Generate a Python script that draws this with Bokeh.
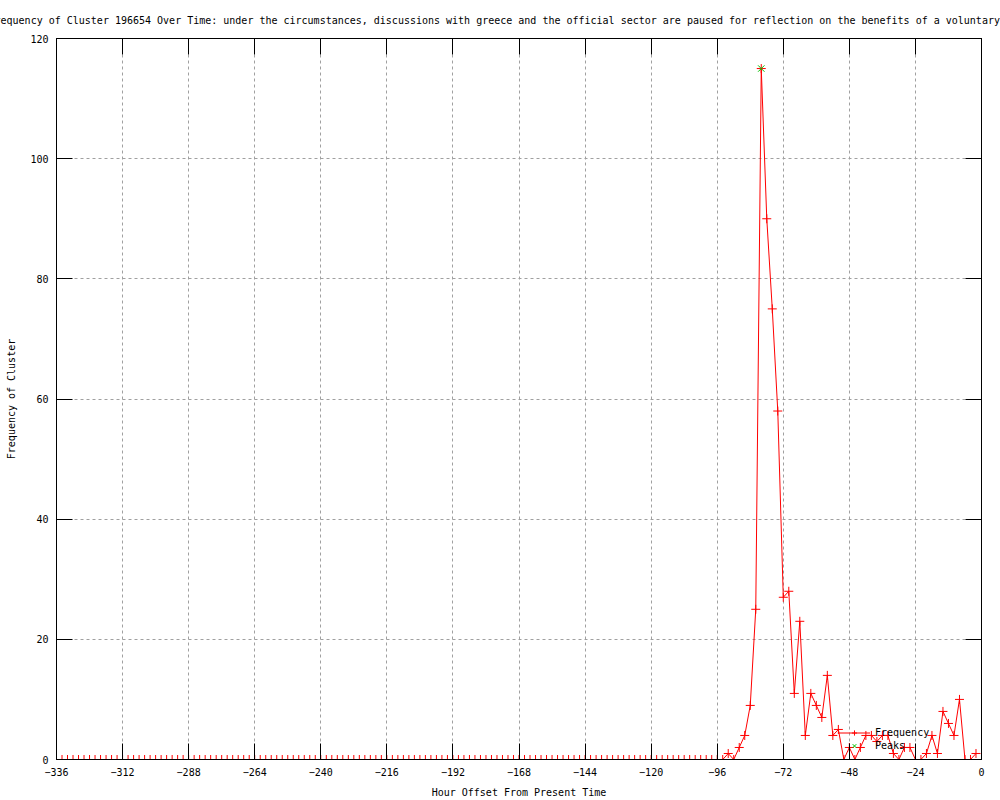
from bokeh.plotting import figure
from bokeh.models import Range1d, FixedTicker, LinearAxis, Legend, LegendItem
from bokeh.embed import file_html
from bokeh.resources import INLINE

# ---------------- data ----------------
title_text = ("Frequency of Cluster 196654 Over Time: under the circumstances, discussions with greece "
              "and the official sector are paused for reflection on the benefits of a voluntary")
x_label = "Hour Offset From Present Time"
y_label = "Frequency of Cluster"

hours = list(range(-336, 0, 2))  # sampling every 2 hours, -336 .. -2

frequency = [
    0, 0, 0, 0, 0, 0, 0, 0, 0, 0, 0, 0, 0, 0, 0, 0, 0, 0, 0, 0,   # -336 .. -298
    0, 0, 0, 0, 0, 0, 0, 0, 0, 0, 0, 0, 0, 0, 0, 0, 0, 0, 0, 0,   # -296 .. -258
    0, 0, 0, 0, 0, 0, 0, 0, 0, 0, 0, 0, 0, 0, 0, 0, 0, 0, 0, 0,   # -256 .. -218
    0, 0, 0, 0, 0, 0, 0, 0, 0, 0, 0, 0, 0, 0, 0, 0, 0, 0, 0, 0,   # -216 .. -178
    0, 0, 0, 0, 0, 0, 0, 0, 0, 0, 0, 0, 0, 0, 0, 0, 0, 0, 0, 0,   # -176 .. -138
    0, 0, 0, 0, 0, 0, 0, 0, 0, 0, 0, 0, 0, 0, 0, 0, 0, 0, 0, 0,   # -136 .. -98
    0, 0,                                                         # -96 .. -94
    1, 0, 2, 4, 9, 25, 115, 90, 75, 58,                           # -92 .. -74
    27, 28, 11, 23, 4, 11, 9, 7, 14, 4,                           # -72 .. -54
    5, 0, 2, 0, 2, 4, 4, 3, 4, 4,                                 # -52 .. -34
    1, 0, 2, 2, 0, 0, 1, 4, 1, 8,                                 # -32 .. -14
    6, 4, 10, 0, 0, 1,                                            # -12 .. -2
]

peak_hours = [-80]
peak_values = [115]

x_ticks = [-336, -312, -288, -264, -240, -216, -192, -168, -144, -120, -96, -72, -48, -24, 0]
y_ticks = [0, 20, 40, 60, 80, 100, 120]

# ---------------- style ----------------
FONT = "DejaVu Sans Mono"
FS = "10px"
RED = "#ff0000"
GREEN = "#00c000"

p = figure(width=1000, height=800,
           x_range=Range1d(-336, 0), y_range=Range1d(0, 120),
           output_backend="svg", toolbar_location=None,
           min_border_left=56, min_border_right=19,
           min_border_top=38, min_border_bottom=40)

p.background_fill_color = "white"
p.border_fill_color = "white"
p.outline_line_color = "black"
p.outline_line_width = 1

# title
p.title.text = title_text
p.title.text_font = FONT
p.title.text_font_size = FS
p.title.text_font_style = "normal"
p.title.text_color = "black"
p.title.align = "left"
p.title.offset = -68
p.title.standoff = 25

# axes
for ax in (p.xaxis[0], p.yaxis[0]):
    ax.major_tick_in = 16
    ax.major_tick_out = 0
    ax.minor_tick_in = 0
    ax.minor_tick_out = 0
    ax.axis_line_color = "black"
    ax.major_tick_line_color = "black"
    ax.major_label_text_font = FONT
    ax.major_label_text_font_size = FS
    ax.major_label_text_color = "black"
    ax.axis_label_text_font = FONT
    ax.axis_label_text_font_size = FS
    ax.axis_label_text_font_style = "normal"
    ax.axis_label_text_color = "black"

p.xaxis[0].ticker = FixedTicker(ticks=x_ticks)
p.yaxis[0].ticker = FixedTicker(ticks=y_ticks)
p.xaxis[0].axis_label = x_label
p.yaxis[0].axis_label = y_label
p.xaxis[0].major_label_standoff = 8
p.xaxis[0].axis_label_standoff = 8
p.yaxis[0].major_label_standoff = 8
p.yaxis[0].axis_label_standoff = 10

# mirrored ticks on top and right (labels not drawn)
top_ax = LinearAxis(ticker=FixedTicker(ticks=x_ticks), major_tick_in=16, major_tick_out=0,
                    minor_tick_in=0, minor_tick_out=0, major_label_text_color=None,
                    major_label_text_font=FONT, major_label_text_font_size=FS,
                    major_label_standoff=0, axis_line_color="black")
right_ax = LinearAxis(ticker=FixedTicker(ticks=y_ticks), major_tick_in=16, major_tick_out=0,
                      minor_tick_in=0, minor_tick_out=0, major_label_text_color=None,
                      major_label_text_font=FONT, major_label_text_font_size=FS,
                      major_label_standoff=0, axis_line_color="black")
p.add_layout(top_ax, "above")
p.add_layout(right_ax, "right")

# grid
for g in (p.xgrid[0], p.ygrid[0]):
    g.grid_line_color = "#a0a0a0"
    g.grid_line_dash = "3 3"
    g.grid_line_width = 1
p.xgrid[0].ticker = FixedTicker(ticks=x_ticks)
p.ygrid[0].ticker = FixedTicker(ticks=y_ticks)

# series
line_r = p.line(hours, frequency, line_color=RED, line_width=1)
pts_r = p.scatter(hours, frequency, marker="cross", size=9, line_color=RED, line_width=1)
peak_r = p.scatter(peak_hours, peak_values, marker="x", size=9, line_color=GREEN, line_width=1)

legend = Legend(items=[LegendItem(label="Frequency", renderers=[line_r, pts_r]),
                       LegendItem(label="Peaks", renderers=[peak_r])],
                location=(782, 7), glyph_width=32, glyph_height=13, label_height=13,
                spacing=0, padding=0, margin=0, label_standoff=5,
                border_line_color=None, background_fill_alpha=0,
                label_text_font=FONT, label_text_font_size=FS, label_text_color="black")
p.add_layout(legend)

open("out.html", "w").write(file_html(p, INLINE))
